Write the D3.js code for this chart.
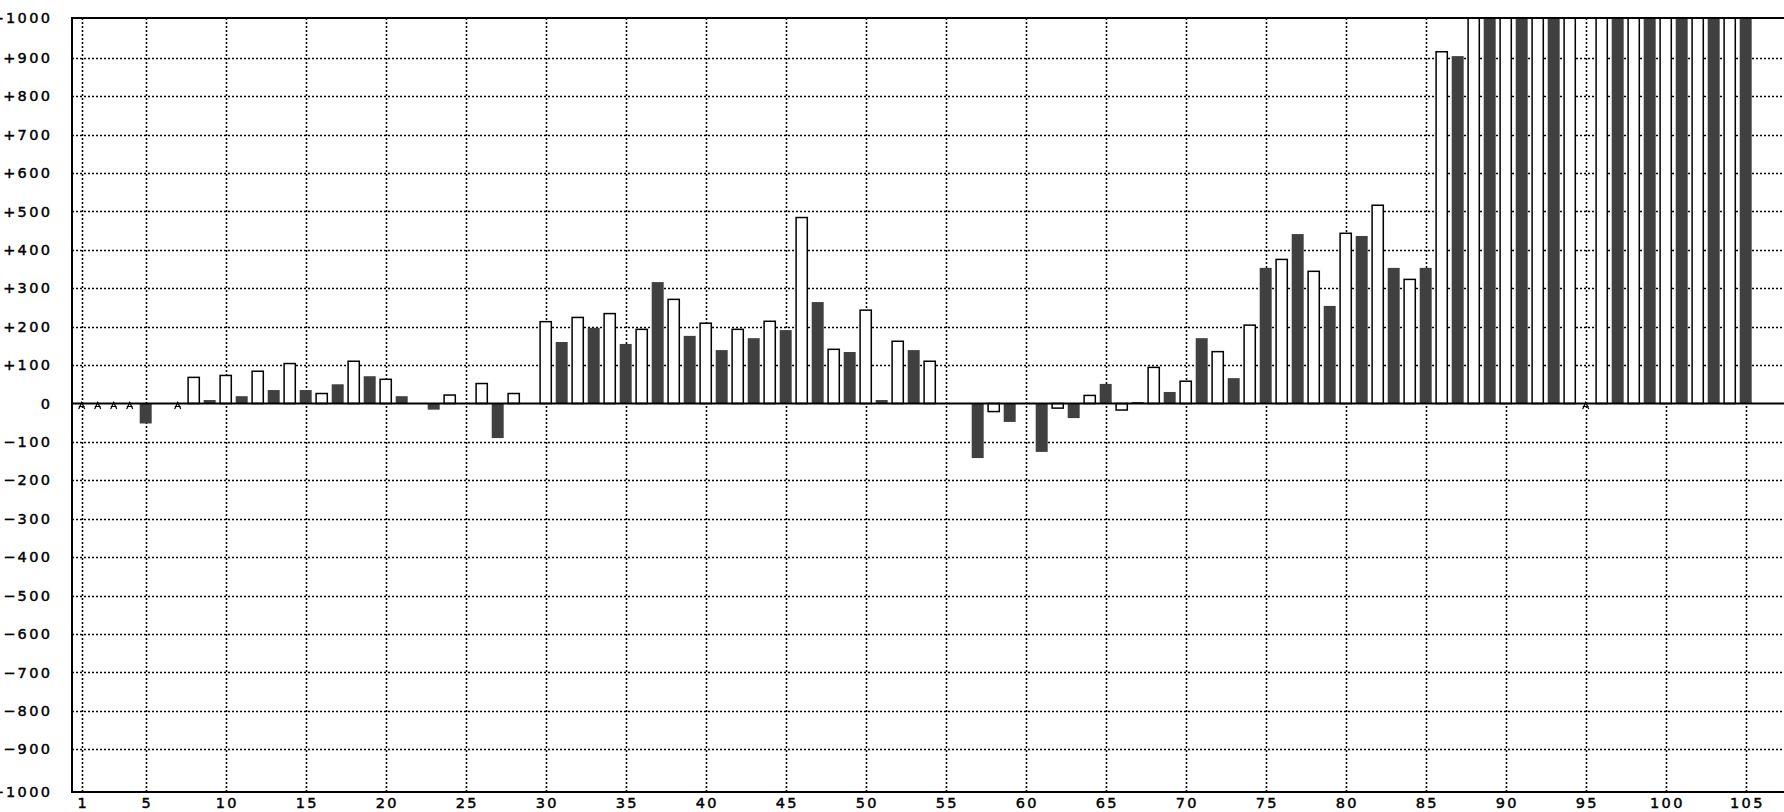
<!DOCTYPE html>
<html>
<head>
<meta charset="utf-8">
<script src="https://cdn.jsdelivr.net/npm/d3@7"></script>
<style>
  html, body { margin: 0; padding: 0; background: #fff; }
  svg { display: block; }
  .tick text { font-family: "DejaVu Sans", sans-serif; font-size: 14.5px; fill: #000; stroke: #000; stroke-width: 0.45px; letter-spacing: 2.3px; }
</style>
</head>
<body>
<svg id="chart" width="1784" height="812"></svg>
<script>
// ---- data ----
const categories = d3.range(1, 106);                 // x categories 1..105
// value per category (null = missing, drawn as a small marker on the zero line)
const values = [
  null, null, null, null, -52, 0, null, 68, 9, 73,
  19, 84, 35, 104, 35, 26, 50, 110, 71, 63,
  19, 0, -16, 22, 0, 52, -90, 26, 0, 213,
  160, 224, 197, 234, 155, 193, 316, 271, 176, 209,
  139, 193, 170, 214, 191, 484, 264, 141, 134, 243,
  9, 162, 139, 110, 0, 0, -142, -21, -48, 0,
  -126, -12, -38, 21, 51, -17, 4, 94, 30, 58,
  170, 135, 66, 204, 353, 375, 441, 344, 254, 443,
  436, 516, 353, 323, 353, 915, 904, 1150, 1150, 1150,
  1150, 1150, 1150, 1150, null, 1150, 1150, 1150, 1150, 1150,
  1150, 1150, 1150, 1150, 1150
];
const xTickLabels = [1, 5, 10, 15, 20, 25, 30, 35, 40, 45, 50, 55, 60, 65, 70, 75, 80, 85, 90, 95, 100, 105];
const yTickLabels = d3.range(-1000, 1001, 100);

const data = categories.map((c, i) => ({ cat: c, v: values[i] }));

// ---- layout ----
const W = 1784, H = 812;
const pLeft = 72, pTop = 18, pBottom = 792;

const x = d3.scaleLinear().domain([1, 105]).range([81.7, 1745.7]);
const y = d3.scaleLinear()
  .domain([-1000, -900, 0, 900, 1000])
  .range([pBottom, 749.3, 403.5, 57.7, pTop]);

const svg = d3.select("#chart");

// clip for the plot area
svg.append("defs").append("clipPath").attr("id", "plot")
  .append("rect").attr("x", pLeft).attr("y", pTop).attr("width", W - pLeft).attr("height", pBottom - pTop);

// ---- grid ----
const grid = svg.append("g").attr("stroke", "#000").attr("stroke-width", 1.6).attr("stroke-dasharray", "2,2");
grid.selectAll("line.h").data(yTickLabels.filter(v => v !== 0 && Math.abs(v) !== 1000)).enter()
  .append("line").attr("class", "h")
  .attr("x1", pLeft).attr("x2", W)
  .attr("y1", d => Math.round(y(d)) + 0.5).attr("y2", d => Math.round(y(d)) + 0.5);
grid.selectAll("line.v").data(xTickLabels).enter()
  .append("line").attr("class", "v")
  .attr("x1", d => Math.round(x(d)) + 0.5).attr("x2", d => Math.round(x(d)) + 0.5)
  .attr("y1", pTop).attr("y2", pBottom);

// ---- bars ----
const bw = 11.2, bwDark = 12;
const bars = svg.append("g").attr("clip-path", "url(#plot)");
const present = data.filter(d => d.v !== null);
bars.selectAll("rect").data(present).enter().append("rect")
  .attr("x", d => x(d.cat) - (d.cat % 2 === 0 ? bw : bwDark) / 2)
  .attr("width", d => d.cat % 2 === 0 ? bw : bwDark)
  .attr("y", d => Math.min(y(d.v), y(0)))
  .attr("height", d => Math.abs(y(d.v) - y(0)))
  .attr("fill", d => d.cat % 2 === 0 ? "#fff" : "#404040")
  .attr("stroke", d => d.cat % 2 === 0 ? "#000" : "none")
  .attr("stroke-width", 1.5);

// ---- zero line ----
svg.append("line").attr("x1", pLeft).attr("x2", W)
  .attr("y1", y(0)).attr("y2", y(0)).attr("stroke", "#000").attr("stroke-width", 2);

// ---- missing-value markers ----
const missing = data.filter(d => d.v === null);
svg.append("g").selectAll("path").data(missing).enter().append("path")
  .attr("d", d => {
    const cx = x(d.cat), cy = y(0);
    return `M${cx - 3},${cy + 5.5} L${cx},${cy - 1} L${cx + 3},${cy + 5.5} M${cx - 3},${cy + 3} L${cx + 3},${cy + 3}`;
  })
  .attr("fill", "none").attr("stroke", "#000").attr("stroke-width", 1.2);

// ---- frame ----
const frame = svg.append("g").attr("stroke", "#000").attr("stroke-width", 2);
frame.append("line").attr("x1", pLeft).attr("x2", W).attr("y1", pTop).attr("y2", pTop);
frame.append("line").attr("x1", pLeft).attr("x2", W).attr("y1", pBottom).attr("y2", pBottom);
frame.append("line").attr("x1", pLeft).attr("x2", pLeft).attr("y1", pTop - 1).attr("y2", pBottom + 1);

// ---- axes ----
const fmt = v => v > 0 ? "+" + v : (v < 0 ? "\u2212" + Math.abs(v) : "0");
const yAxis = svg.append("g").attr("transform", `translate(${pLeft},0)`)
  .call(d3.axisLeft(y).tickValues(yTickLabels).tickFormat(fmt).tickSize(0).tickPadding(19.8));
yAxis.select(".domain").remove();

const xAxis = svg.append("g").attr("transform", `translate(0,${pBottom})`)
  .call(d3.axisBottom(x).tickValues(xTickLabels).tickFormat(d3.format("d")).tickSize(0).tickPadding(6));
xAxis.select(".domain").remove();
xAxis.selectAll("text").attr("dx", "1.15px");
</script>
</body>
</html>
